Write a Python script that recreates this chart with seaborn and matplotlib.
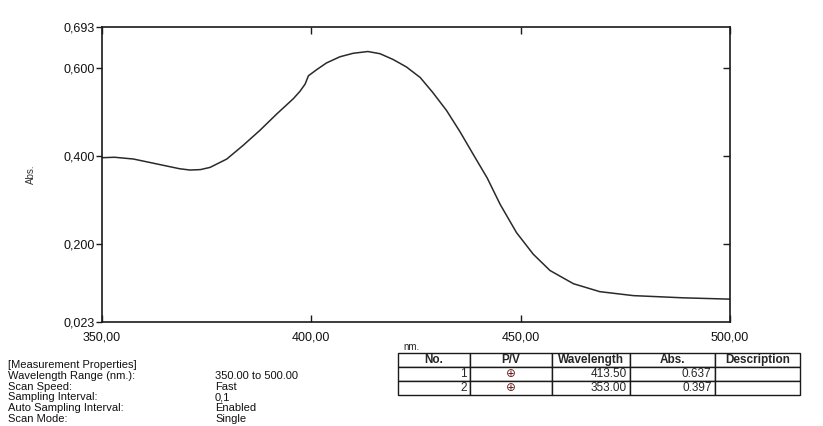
import matplotlib
matplotlib.use("Agg")
import matplotlib.pyplot as plt
import seaborn as sns
import pandas as pd

# spectrum
wavelength = [350.0, 353.0, 357.5, 361.5, 365.5, 368.5, 371.0, 373.5, 375.8, 379.8,
              383.7, 387.7, 391.7, 395.7, 397.3, 398.5, 399.3, 401.3, 403.6, 406.8,
              410.0, 413.5, 416.4, 419.5, 422.7, 426.0, 429.0, 432.3, 435.5, 438.7,
              442.0, 445.1, 449.0, 453.0, 457.0, 462.6, 468.9, 476.9, 488.8, 500.0]
absorbance = [0.396, 0.397, 0.393, 0.385, 0.377, 0.371, 0.368, 0.369, 0.374, 0.393,
              0.424, 0.458, 0.495, 0.530, 0.547, 0.563, 0.582, 0.596, 0.611, 0.625,
              0.633, 0.637, 0.632, 0.619, 0.602, 0.578, 0.544, 0.503, 0.455, 0.403,
              0.350, 0.290, 0.226, 0.177, 0.140, 0.110, 0.092, 0.083, 0.078, 0.075]

x_ticks = [350, 400, 450, 500]
x_ticklabels = ["350,00", "400,00", "450,00", "500,00"]
y_ticks = [0.023, 0.200, 0.400, 0.600, 0.693]
y_ticklabels = ["0,023", "0,200", "0,400", "0,600", "0,693"]

prop_names = ["[Measurement Properties]", "Wavelength Range (nm.):", "Scan Speed:",
              "Sampling Interval:", "Auto Sampling Interval:", "Scan Mode:"]
prop_values = ["", "350.00 to 500.00", "Fast", "0,1", "Enabled", "Single"]

table_cols = ["No.", "P/V", "Wavelength", "Abs.", "Description"]
peak_no = ["1", "2"]
peak_pv = ["\u2295", "\u2295"]
peak_wl = ["413.50", "353.00"]
peak_abs = ["0.637", "0.397"]
peak_desc = ["", ""]

sns.set_theme(style="white")
plt.rcParams["font.family"] = ["Liberation Sans", "DejaVu Sans"]

fig = plt.figure(figsize=(8.23, 4.26), dpi=100)
fig.patch.set_facecolor("white")
ax = fig.add_axes([0.124, 0.244, 0.763, 0.693])

df = pd.DataFrame({"nm": wavelength, "Abs": absorbance})
sns.lineplot(data=df, x="nm", y="Abs", ax=ax, color="#2a2a2a", linewidth=1.1)

ax.set_xlim(350, 500)
ax.set_ylim(0.023, 0.693)
for s in ax.spines.values():
    s.set_color("#1a1a1a")
    s.set_linewidth(1.2)

ax.set_xticks(x_ticks)
ax.set_xticklabels(x_ticklabels, fontsize=9)
ax.tick_params(axis="x", direction="in", top=True, bottom=True, length=5,
               width=1, color="#1a1a1a", pad=7, labelcolor="#111111")
ax.set_yticks(y_ticks)
ax.set_yticklabels(y_ticklabels, fontsize=9)
ax.tick_params(axis="y", direction="out", left=True, length=4, width=1,
               color="#1a1a1a", pad=1.5, labelcolor="#111111")

# right-hand ticks point inward
ax_r = ax.twinx()
ax_r.set_ylim(0.023, 0.693)
ax_r.set_yticks([0.2, 0.4, 0.6])
ax_r.set_yticklabels([])
ax_r.tick_params(axis="y", direction="in", length=5, width=1, color="#1a1a1a")
for s in ax_r.spines.values():
    s.set_visible(False)

ax.set_xlabel("")
ax.set_ylabel("Abs.", fontsize=7, color="#333333")
ax.yaxis.set_label_coords(-0.105, 0.50)
ax.text(0.480, -0.085, "nm.", transform=ax.transAxes, fontsize=7,
        ha="left", va="center", color="#222222")

# measurement properties block
for i, (name, val) in enumerate(zip(prop_names, prop_values)):
    y = 1 - (365.5 + i * 10.6) / 426
    fig.text(8 / 823, y, name, fontsize=8, ha="left", va="center", color="#111111")
    if val:
        fig.text(215 / 823, y, val, fontsize=8, ha="left", va="center", color="#111111")

# peak table
ax_t = fig.add_axes([398 / 823, 1 - 395 / 426, 402 / 823, 42 / 426])
ax_t.axis("off")
cells = [list(r) for r in zip(peak_no, peak_pv, peak_wl, peak_abs, peak_desc)]
tbl = ax_t.table(cellText=cells, colLabels=table_cols,
                 colWidths=[72, 82, 78, 85, 85], bbox=[0, 0, 1, 1])
tbl.auto_set_font_size(False)
tbl.set_fontsize(8.5)
for (r, c), cell in tbl.get_celld().items():
    cell.set_edgecolor("#1a1a1a")
    cell.set_linewidth(1.0)
    cell.PAD = 0.04
    if r == 0:
        cell.get_text().set_fontweight("bold")
        cell.get_text().set_ha("center")
    elif c == 1:
        cell.get_text().set_ha("center")
        cell.get_text().set_color("#6b1f1f")
    else:
        cell.get_text().set_ha("right")
        cell._loc = "right"

fig.savefig("out.png", dpi=100, facecolor="white")
